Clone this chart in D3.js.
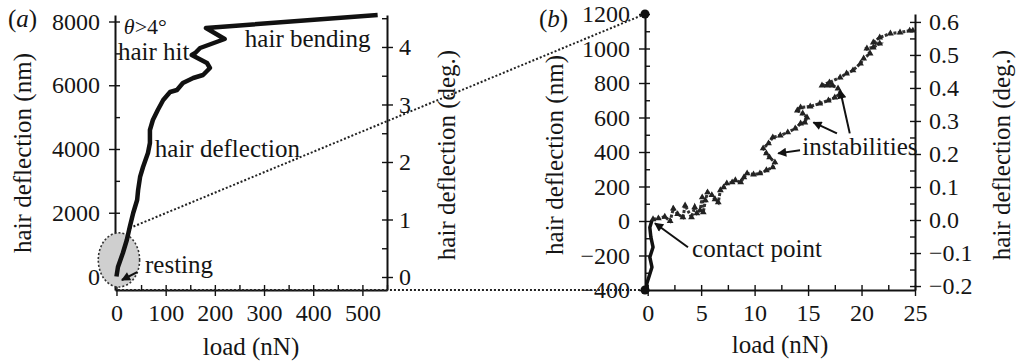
<!DOCTYPE html>
<html>
<head>
<meta charset="utf-8">
<script src="https://cdn.jsdelivr.net/npm/d3@7"></script>
<style>
  body { margin: 0; background: #fff; }
  text { font-family: "Liberation Serif", "Times New Roman", serif; }
</style>
</head>
<body>
<div id="chart"></div>
<script>
// panel (a): load (nN) vs hair deflection (nm)
const loadA = [0, 3, 13, 21, 27, 34, 42, 44, 48, 54, 64, 68, 68, 74, 84, 95, 109, 123, 135, 156, 176, 190, 184, 153, 160, 170, 220, 182, 531];
const deflA = [0, 298, 737, 1145, 1553, 1992, 2400, 2714, 3122, 3435, 3875, 4188, 4596, 4910, 5224, 5537, 5788, 5851, 6071, 6227, 6322, 6541, 6698, 6949, 7012, 7169, 7451, 7796, 8204];

// panel (b): approach phase (thick line) and contact phase (triangle markers)
const loadB0 = [-0.1, -0.07, 0.4, 0.2, 0.5, 0.3, 0.2, 0.4];
const deflB0 = [-400, -361, -268, -210, -152, -94, -37, 4];
const loadB = [0.5, 1, 1.6, 2.1, 2.4, 2.8, 3.3, 3.5, 4.1, 4.4, 4.6, 4.9, 5.1, 5.2, 5.4, 5.6, 6.0, 6.3, 6.6, 6.8, 7.1, 7.4, 7.9, 8.2, 8.7, 9.0, 9.3, 9.9, 10.5, 11.1, 11.7, 11.9, 11.4, 11.1, 10.8, 11.3, 11.7, 12.4, 13.1, 13.8, 14.3, 14.7, 14.9, 14.5, 14.0, 14.3, 15.2, 16.1, 16.9, 17.5, 18.0, 17.8, 17.3, 16.8, 16.3, 17.0, 18.0, 18.6, 19.2, 19.9, 20.2, 20.8, 20.5, 21.1, 21.7, 21.1, 21.7, 22.7, 23.6, 24.5, 24.8];
const deflB = [10, 15, 25, 0, 72, 40, 21, 90, 21, 80, 45, 62, 137, 50, 120, 166, 150, 126, 108, 178, 195, 218, 224, 236, 224, 253, 276, 270, 276, 294, 311, 340, 369, 392, 421, 450, 485, 496, 514, 536, 565, 571, 600, 623, 641, 659, 664, 681, 699, 716, 739, 768, 786, 786, 786, 804, 832, 855, 873, 913, 942, 971, 1000, 1006, 1029, 1035, 1064, 1087, 1093, 1104, 1104];

// tick labels
const ticksAx = [0, 100, 200, 300, 400, 500];
const ticksAy = [0, 2000, 4000, 6000, 8000];
const ticksAdeg = [0, 1, 2, 3, 4];
const ticksBx = [0, 5, 10, 15, 20, 25];
const ticksBy = [-400, -200, 0, 200, 400, 600, 800, 1000, 1200];
const ticksBdeg = [-0.2, -0.1, 0, 0.1, 0.2, 0.3, 0.4, 0.5, 0.6];

// zoomed region in (a) (centre load, centre defl, radius load, radius defl)
const restRegion = [5, 520, 42, 850];

const width = 1016, height = 363;
const svg = d3.select('#chart').append('svg')
    .attr('width', width)
    .attr('height', height);

const xA = d3.scaleLinear().domain([-3, 550]).range([115, 387]);
const yA = d3.scaleLinear().domain([-424, 8204]).range([290, 15]);
const yAdeg = d3.scaleLinear().domain([-0.226, 4.556]).range([290, 15]);
const xB = d3.scaleLinear().domain([-0.25, 25]).range([645, 915]);
const yB = d3.scaleLinear().domain([-400, 1200]).range([290, 14]);
const yBdeg = d3.scaleLinear().domain([-0.212, 0.624]).range([290, 14]);

function styleAxis(g, size) {
    g.attr('font-family', null).attr('font-size', size);
    g.select('.domain').attr('stroke', '#111').attr('stroke-width', 2);
    g.selectAll('.tick line').attr('stroke', '#111').attr('stroke-width', 1.4);
    g.selectAll('.tick text').attr('fill', '#151515');
}

// major ticks outward with labels, all ticks (major + minor) inward
function drawAxis(make, scale, pos, horizontal, majors, minors, fmt, pad) {
    const tr = horizontal ? `translate(0,${pos})` : `translate(${pos},0)`;
    svg.append('g')
        .attr('transform', tr)
        .call(make(scale).tickValues(minors).tickSize(-5).tickSizeOuter(0).tickFormat(''))
        .call(g => g.select('.domain').remove())
        .call(g => styleAxis(g, 24));
    svg.append('g')
        .attr('transform', tr)
        .call(make(scale).tickValues(majors).tickSize(6).tickSizeOuter(0).tickPadding(pad).tickFormat(fmt))
        .call(g => styleAxis(g, 24));
}

const fmtInt = d3.format('');

drawAxis(d3.axisBottom, xA, 290, true, ticksAx, d3.range(0, 551, 50), fmtInt, 8);
drawAxis(d3.axisLeft, yA, 115, false, ticksAy, d3.range(0, 8201, 1000), fmtInt, 9);
drawAxis(d3.axisRight, yAdeg, 387, false, ticksAdeg, d3.range(0, 4.6, 0.5), fmtInt, 6);
drawAxis(d3.axisBottom, xB, 290, true, ticksBx, d3.range(0, 25.1, 2.5), fmtInt, 8);
drawAxis(d3.axisLeft, yB, 645, false, ticksBy, d3.range(-400, 1201, 100), fmtInt, 9);
drawAxis(d3.axisRight, yBdeg, 915, false, ticksBdeg, d3.range(-0.2, 0.61, 0.05), d3.format('.1f'), 8);

// zoom region + connector lines
svg.append('ellipse')
    .attr('cx', xA(restRegion[0]))
    .attr('cy', yA(restRegion[1]))
    .attr('rx', xA(restRegion[0] + restRegion[2]) - xA(restRegion[0]))
    .attr('ry', yA(restRegion[1]) - yA(restRegion[1] + restRegion[3]))
    .attr('fill', '#cfcfcf')
    .attr('stroke', '#333')
    .attr('stroke-width', 1.6)
    .attr('stroke-dasharray', '2,2');

const connectors = [
    [[xA(27), yA(1520)], [xB(-0.25), yB(1200)]],
    [[xA(3), yA(-424)], [xB(-0.25), yB(-400)]]
];
svg.append('g')
    .selectAll('line')
    .data(connectors)
    .join('line')
    .attr('x1', d => d[0][0]).attr('y1', d => d[0][1])
    .attr('x2', d => d[1][0]).attr('y2', d => d[1][1])
    .attr('stroke', '#222')
    .attr('stroke-width', 2)
    .attr('stroke-dasharray', '2,2');

svg.append('g')
    .selectAll('circle')
    .data([1200, -400])
    .join('circle')
    .attr('cx', xB(-0.25))
    .attr('cy', d => yB(d))
    .attr('r', 4.5)
    .attr('fill', '#111');

// curve (a)
const lineA = d3.line().x(d => xA(d[0])).y(d => yA(d[1]));
svg.append('path')
    .datum(loadA.map((v, i) => [v, deflA[i]]))
    .attr('d', lineA)
    .attr('fill', 'none')
    .attr('stroke', '#111')
    .attr('stroke-width', 4.5)
    .attr('stroke-linejoin', 'round');

// curve (b)
const lineB = d3.line().x(d => xB(d[0])).y(d => yB(d[1]));
svg.append('path')
    .datum(loadB0.map((v, i) => [v, deflB0[i]]))
    .attr('d', lineB)
    .attr('fill', 'none')
    .attr('stroke', '#111')
    .attr('stroke-width', 3.5)
    .attr('stroke-linejoin', 'round');

const ptsB = loadB.map((v, i) => [v, deflB[i]]);
svg.append('path')
    .datum(ptsB)
    .attr('d', lineB)
    .attr('fill', 'none')
    .attr('stroke', '#333')
    .attr('stroke-width', 3)
    .attr('stroke-dasharray', '3,1.5');
svg.append('g')
    .selectAll('path')
    .data(ptsB)
    .join('path')
    .attr('transform', d => `translate(${xB(d[0])},${yB(d[1])})`)
    .attr('d', d3.symbol(d3.symbolTriangle, 20))
    .attr('fill', '#222');

// arrows
const defs = svg.append('defs');
defs.append('marker')
    .attr('id', 'head')
    .attr('viewBox', '0 0 10 10')
    .attr('refX', 9).attr('refY', 5)
    .attr('markerWidth', 12).attr('markerHeight', 9)
    .attr('markerUnits', 'userSpaceOnUse')
    .attr('orient', 'auto')
    .append('path')
    .attr('d', 'M0,0 L10,5 L0,10 z')
    .attr('fill', '#111');

const arrows = [
    [xA(42), yA(140), xA(11), yA(-110)],
    [xB(3.77), yB(-152), xB(0.68), yB(-13)],
    [xB(14.25), yB(410), xB(12.2), yB(392)],
    [xB(17.7), yB(508), xB(15.5), yB(572)],
    [xB(18.9), yB(508), xB(18.0), yB(758)]
];
svg.append('g')
    .selectAll('line')
    .data(arrows)
    .join('line')
    .attr('x1', d => d[0]).attr('y1', d => d[1])
    .attr('x2', d => d[2]).attr('y2', d => d[3])
    .attr('stroke', '#111')
    .attr('stroke-width', 2)
    .attr('marker-end', 'url(#head)');

// annotations
const notes = [
    [xA(3), yA(6792), 'hair hit'],
    [xA(261), yA(7200), 'hair bending'],
    [xA(78), yA(3749), 'hair deflection'],
    [xA(58), yA(110), 'resting'],
    [xB(4.15), yB(-210), 'contact point'],
    [xB(14.45), yB(381), 'instabilities']
];
svg.append('g')
    .selectAll('text')
    .data(notes)
    .join('text')
    .attr('x', d => d[0])
    .attr('y', d => d[1])
    .attr('font-size', 25)
    .attr('fill', '#151515')
    .text(d => d[2]);

const theta = svg.append('text')
    .attr('x', xA(15)).attr('y', yA(7620))
    .attr('font-size', 22)
    .attr('fill', '#151515');
theta.append('tspan').attr('font-style', 'italic').text('θ');
theta.append('tspan').text('>4°');

// panel letters
[['a', 8], ['b', 539]].forEach(([l, x]) => {
    const t = svg.append('text').attr('x', x).attr('y', 27)
        .attr('font-size', 25).attr('fill', '#151515');
    t.append('tspan').text('(');
    t.append('tspan').attr('font-style', 'italic').text(l);
    t.append('tspan').text(')');
});

// axis titles
const titles = [
    [31, 153, -90, 'hair deflection (nm)'],
    [455, 155, -90, 'hair deflection (deg.)'],
    [563, 155, -90, 'hair deflection (nm)'],
    [1010, 155, -90, 'hair deflection (deg.)'],
    [251, 355, 0, 'load (nN)'],
    [780, 353, 0, 'load (nN)']
];
svg.append('g')
    .selectAll('text')
    .data(titles)
    .join('text')
    .attr('transform', d => `translate(${d[0]},${d[1]}) rotate(${d[2]})`)
    .attr('text-anchor', 'middle')
    .attr('font-size', 25)
    .attr('fill', '#151515')
    .text(d => d[3]);
</script>
</body>
</html>
